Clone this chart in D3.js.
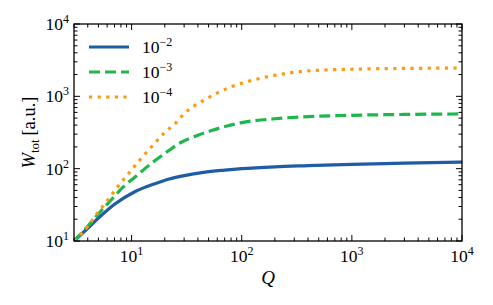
<!DOCTYPE html>
<html lang="en">
<head>
<meta charset="UTF-8">
<title>W_tot vs Q</title>
<script src="https://d3js.org/d3.v7.min.js"></script>
<style>
  body { margin: 0; background: #fff; }
  svg text { font-family: "Liberation Serif", "DejaVu Serif", serif; }
</style>
</head>
<body>
<div id="chart"></div>
<script>
// data
const seriesLabels = ["\u22122", "\u22123", "\u22124"];
const blueQ = [3, 4, 4.97, 7.05, 10.7, 16.3, 22, 28.5, 45, 70, 100, 200, 400, 1000, 3000, 10000];
const blueW = [10, 15, 20.6, 32.5, 48, 62, 72, 79, 89, 95.5, 100, 106, 110, 115, 119, 123];
const greenQ = [3, 4, 5.15, 6.58, 8.4, 11.1, 15.2, 20.1, 28, 40, 53, 75, 100, 200, 400, 1000, 3000, 10000];
const greenW = [10, 16, 25, 37.5, 56, 80, 119, 163, 230, 290, 336, 392, 433, 490, 525, 547, 562, 571];
const orangeQ = [3, 4, 4.81, 6.05, 7.55, 9.5, 11.9, 15.4, 19.7, 25.6, 29.5, 47, 77, 129, 187, 389, 1000, 3000, 10000];
const orangeW = [10, 16, 23.5, 36.5, 57, 87, 132, 206, 309, 440, 560, 912, 1320, 1690, 1915, 2240, 2370, 2430, 2460];
const xTicks = [10, 100, 1000, 10000];
const yTicks = [10, 100, 1000, 10000];

const W = 493, H = 305;
const margin = { top: 24, right: 31, bottom: 64, left: 74 };
const iw = W - margin.left - margin.right;
const ih = H - margin.top - margin.bottom;

const svg = d3.select("#chart").append("svg")
    .attr("width", W)
    .attr("height", H);

const g = svg.append("g")
    .attr("transform", `translate(${margin.left},${margin.top})`);

const x = d3.scaleLog().domain([3, 10000]).range([0, iw]);
const y = d3.scaleLog().domain([10, 10000]).range([ih, 0]);

// minor ticks 2..9 within each decade
function minors(dom) {
  const out = [];
  for (let e = -1; e <= 5; e++) {
    for (let m = 2; m <= 9; m++) {
      const v = m * Math.pow(10, e);
      if (v >= dom[0] && v <= dom[1]) out.push(v);
    }
  }
  return out;
}
const xMinor = minors(x.domain());
const yMinor = minors(y.domain());

function tickLabel(sel, v) {
  const e = Math.round(Math.log10(v));
  sel.append("tspan").text("10");
  sel.append("tspan").attr("dy", -7).attr("font-size", 12).text(e);
}

g.append("clipPath").attr("id", "clip")
  .append("rect").attr("width", iw).attr("height", ih);

// curves
const series = [
  { q: blueQ, w: blueW, color: "#1f5ca6", dash: null },
  { q: greenQ, w: greenW, color: "#1db74b", dash: "11,5" },
  { q: orangeQ, w: orangeW, color: "#ff9a0f", dash: "3.2,5.4" }
];

const line = d3.line()
  .x(d => x(d[0]))
  .y(d => y(d[1]))
  .curve(d3.curveMonotoneX);

const curves = g.append("g").attr("clip-path", "url(#clip)");
series.forEach(s => {
  curves.append("path")
    .datum(s.q.map((q, i) => [q, s.w[i]]))
    .attr("fill", "none")
    .attr("stroke", s.color)
    .attr("stroke-width", 3.2)
    .attr("stroke-dasharray", s.dash)
    .attr("d", line);
});

// ticks, inward on all four sides
const tk = g.append("g").attr("stroke", "#000").attr("stroke-width", 1);
const majorLen = 6, minorLen = 3.5;
xTicks.forEach(v => {
  tk.append("line").attr("x1", x(v)).attr("x2", x(v)).attr("y1", ih).attr("y2", ih - majorLen);
  tk.append("line").attr("x1", x(v)).attr("x2", x(v)).attr("y1", 0).attr("y2", majorLen);
});
xMinor.forEach(v => {
  tk.append("line").attr("x1", x(v)).attr("x2", x(v)).attr("y1", ih).attr("y2", ih - minorLen);
  tk.append("line").attr("x1", x(v)).attr("x2", x(v)).attr("y1", 0).attr("y2", minorLen);
});
yTicks.forEach(v => {
  tk.append("line").attr("y1", y(v)).attr("y2", y(v)).attr("x1", 0).attr("x2", majorLen);
  tk.append("line").attr("y1", y(v)).attr("y2", y(v)).attr("x1", iw).attr("x2", iw - majorLen);
});
yMinor.forEach(v => {
  tk.append("line").attr("y1", y(v)).attr("y2", y(v)).attr("x1", 0).attr("x2", minorLen);
  tk.append("line").attr("y1", y(v)).attr("y2", y(v)).attr("x1", iw).attr("x2", iw - minorLen);
});

// frame
g.append("rect")
  .attr("width", iw).attr("height", ih)
  .attr("fill", "none").attr("stroke", "#000").attr("stroke-width", 1.3);

// tick labels
xTicks.forEach(v => {
  const t = g.append("text")
    .attr("x", x(v)).attr("y", ih + 21)
    .attr("text-anchor", "middle")
    .attr("font-size", 17.5);
  tickLabel(t, v);
});
yTicks.forEach(v => {
  const t = g.append("text")
    .attr("x", -5).attr("y", y(v) + 6)
    .attr("text-anchor", "end")
    .attr("font-size", 17.5);
  tickLabel(t, v);
});

// axis titles
svg.append("text")
  .attr("x", margin.left + x(Math.sqrt(3 * 10000)))
  .attr("y", 284)
  .attr("text-anchor", "middle")
  .attr("font-size", 19)
  .attr("font-style", "italic")
  .text("Q");

const yl = svg.append("text")
  .attr("transform", `translate(35,${margin.top + ih / 2}) rotate(-90)`)
  .attr("text-anchor", "middle")
  .attr("font-size", 18.5);
yl.append("tspan").attr("font-style", "italic").text("W");
yl.append("tspan").attr("dy", 4).attr("font-size", 13).text("tot");
yl.append("tspan").attr("dy", -4).text("\u2009[a.u.]");

// legend
const lg = g.append("g");
series.forEach((s, i) => {
  const ly = 23 + i * 25;
  lg.append("line")
    .attr("x1", 15).attr("x2", 55).attr("y1", ly).attr("y2", ly)
    .attr("stroke", s.color).attr("stroke-width", 3.2)
    .attr("stroke-dasharray", s.dash);
  const t = lg.append("text")
    .attr("x", 68).attr("y", ly + 6)
    .attr("font-size", 17.5);
  t.append("tspan").text("10");
  t.append("tspan").attr("dy", -7).attr("font-size", 12).text(seriesLabels[i]);
});
</script>
</body>
</html>
